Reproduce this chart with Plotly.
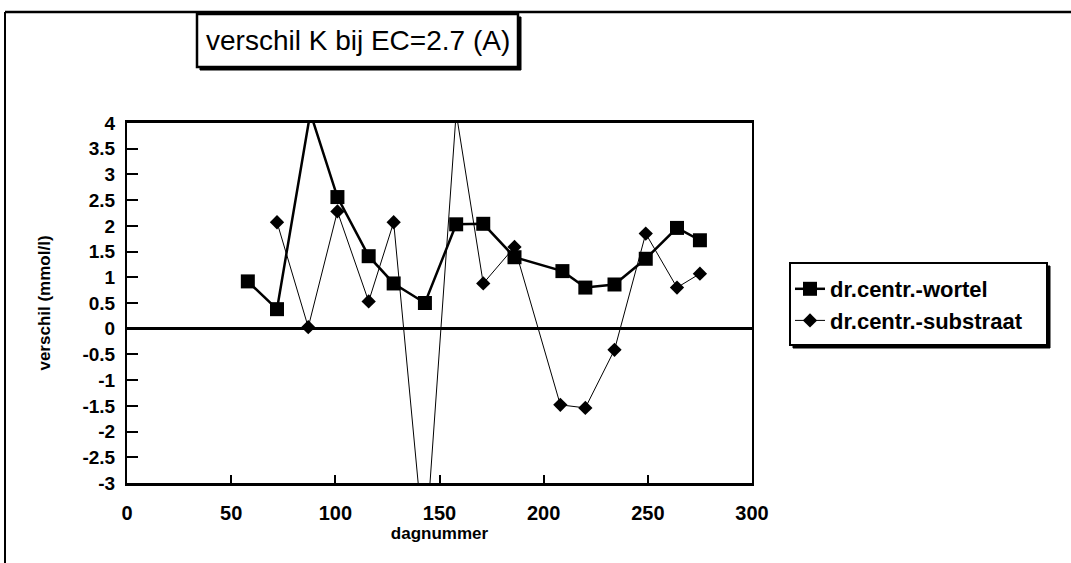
import plotly.graph_objects as go

# ---- data ----
days_wortel = [58, 72, 88, 101, 116, 128, 143, 158, 171, 186, 209, 220, 234, 249, 264, 275]
verschil_wortel = [0.92, 0.38, 4.2, 2.56, 1.41, 0.88, 0.5, 2.03, 2.04, 1.39, 1.12, 0.8, 0.86, 1.36, 1.96, 1.72]

days_substraat = [72, 87, 101, 116, 128, 143, 158, 171, 186, 208, 220, 234, 249, 264, 275]
verschil_substraat = [2.07, 0.03, 2.28, 0.53, 2.07, -4.4, 4.2, 0.88, 1.59, -1.48, -1.54, -0.41, 1.85, 0.8, 1.07]

series_names = ["dr.centr.-wortel", "dr.centr.-substraat"]
title_text = "verschil K bij EC=2.7 (A)"
x_title = "dagnummer"
y_title = "verschil (mmol/l)"

x_tick_vals = [0, 50, 100, 150, 200, 250, 300]
x_tick_text = ["0", "50", "100", "150", "200", "250", "300"]
y_tick_vals = [4, 3.5, 3, 2.5, 2, 1.5, 1, 0.5, 0, -0.5, -1, -1.5, -2, -2.5, -3]
y_tick_text = ["4", "3.5", "3", "2.5", "2", "1.5", "1", "0.5", "0", "-0.5", "-1", "-1.5", "-2", "-2.5", "-3"]

# ---- layout geometry (pixels) ----
W, H = 1071, 563
L, R, T, B = 127, 752, 123, 483
FONT = "Liberation Sans, Arial, Helvetica, sans-serif"


def px(x):
    return (x - L) / (R - L)


def py(y):
    return (B - y) / (B - T)


fig = go.Figure()
fig.add_trace(go.Scatter(
    x=days_wortel, y=verschil_wortel, name=series_names[0],
    mode="lines+markers",
    line=dict(color="black", width=2.5),
    marker=dict(symbol="square", size=14, color="black"),
))
fig.add_trace(go.Scatter(
    x=days_substraat, y=verschil_substraat, name=series_names[1],
    mode="lines+markers",
    line=dict(color="black", width=1),
    marker=dict(symbol="diamond", size=11, color="black"),
))

shapes = []
# outer frame (top and left)
shapes.append(dict(type="line", xref="paper", yref="paper", x0=px(5), x1=px(1071), y0=py(12), y1=py(12),
                   line=dict(color="black", width=2.5)))
shapes.append(dict(type="line", xref="paper", yref="paper", x0=px(5), x1=px(5), y0=py(12), y1=py(563),
                   line=dict(color="black", width=2)))
# title box with shadow
shapes.append(dict(type="rect", xref="paper", yref="paper", x0=px(200), x1=px(521), y0=py(17), y1=py(70),
                   fillcolor="black", line=dict(color="black", width=1)))
shapes.append(dict(type="rect", xref="paper", yref="paper", x0=px(197), x1=px(518), y0=py(14), y1=py(67),
                   fillcolor="white", line=dict(color="black", width=2.5)))
# legend box with shadow
shapes.append(dict(type="rect", xref="paper", yref="paper", x0=px(793), x1=px(1050), y0=py(266), y1=py(348),
                   fillcolor="black", line=dict(color="black", width=1)))
shapes.append(dict(type="rect", xref="paper", yref="paper", x0=px(790), x1=px(1047), y0=py(263), y1=py(345),
                   fillcolor="white", line=dict(color="black", width=2)))

BOLD = dict(family=FONT, color="black", weight="bold")

fig.update_layout(
    width=W, height=H,
    margin=dict(l=L, r=W - R, t=T, b=H - B, pad=0),
    paper_bgcolor="white", plot_bgcolor="white",
    font=dict(family=FONT, color="black", size=19),
    showlegend=True,
    legend=dict(x=px(790), y=py(268), xanchor="left", yanchor="top",
                bgcolor="rgba(0,0,0,0)", borderwidth=0,
                font=dict(size=22, **BOLD),
                itemwidth=30, tracegroupgap=0),
    shapes=shapes,
    annotations=[dict(xref="paper", yref="paper", x=px(357.5), y=py(40.5), text=title_text,
                      showarrow=False, xanchor="center", yanchor="middle",
                      font=dict(family=FONT, size=28, color="black"))],
)

fig.update_xaxes(
    range=[0, 300], tickvals=x_tick_vals, ticktext=x_tick_text,
    ticks="inside", ticklen=8, tickwidth=2, tickcolor="black",
    showline=True, linecolor="black", linewidth=2.5, mirror=True,
    showgrid=False, zeroline=False,
    tickfont=dict(size=20, **BOLD), ticklabelstandoff=10,
    title=dict(text=x_title, font=dict(size=17, **BOLD), standoff=1),
)
fig.update_yaxes(
    range=[-3, 4], tickvals=y_tick_vals, ticktext=y_tick_text,
    ticks="inside", ticklen=11, tickwidth=2, tickcolor="black",
    showline=True, linecolor="black", linewidth=2, mirror=True,
    showgrid=False, zeroline=True, zerolinecolor="black", zerolinewidth=2.5,
    tickfont=dict(size=19, **BOLD), ticklabelstandoff=6,
    title=dict(text=y_title, font=dict(size=17, **BOLD), standoff=28),
)

fig.write_html("out.html")
